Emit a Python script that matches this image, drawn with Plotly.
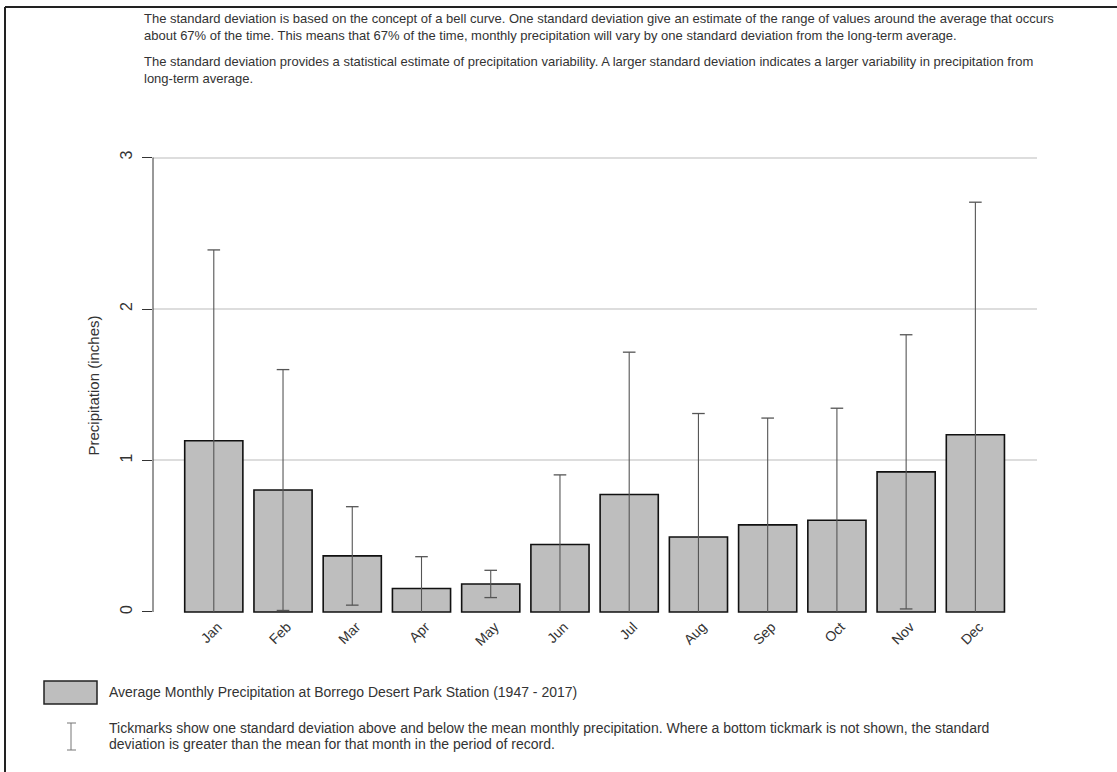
import plotly.graph_objects as go

# ---------------- data ----------------
months = ["Jan", "Feb", "Mar", "Apr", "May", "Jun",
          "Jul", "Aug", "Sep", "Oct", "Nov", "Dec"]
mean_precip = [1.13, 0.805, 0.37, 0.155, 0.185, 0.445,
               0.775, 0.495, 0.575, 0.605, 0.925, 1.17]
sd_precip = [1.26, 0.795, 0.325, 0.21, 0.09, 0.46,
             0.94, 0.815, 0.705, 0.74, 0.905, 1.535]
y_ticks = [0, 1, 2, 3]

header_1 = ("The standard deviation is based on the concept of a bell curve. One standard deviation give an "
            "estimate of the range of values around the average that occurs<br>about 67% of the time. This means "
            "that 67% of the time, monthly precipitation will vary by one standard deviation from the long-term average.")
header_2 = ("The standard deviation provides a statistical estimate of precipitation variability. A larger standard "
            "deviation indicates a larger variability in precipitation from<br>long-term average.")
legend_bar = "Average Monthly Precipitation at Borrego Desert Park Station (1947 - 2017)"
legend_err_1 = ("Tickmarks show one standard deviation above and below the mean monthly precipitation. "
                "Where a bottom tickmark is not shown, the standard")
legend_err_2 = "deviation is greater than the mean for that month in the period of record."
y_title = "Precipitation (inches)"

# ---------------- layout constants ----------------
W, H = 1117, 772
ML, MR, MT, MB = 153, 80, 156, 157
FONT = "Liberation Sans, Arial, sans-serif"
TXT = "#333333"
BAR_FILL = "#bebebe"
ERR = "#555555"

PW = W - ML - MR
PH = H - MT - MB


def px_x(px):
    return (px - ML) / PW


def px_y(py):
    return (H - MB - py) / PH


xs = list(range(len(months)))

fig = go.Figure()
fig.add_trace(go.Bar(
    x=xs, y=mean_precip, width=0.84,
    marker=dict(color=BAR_FILL, line=dict(color="#111111", width=1.6)),
    hoverinfo="skip", showlegend=False,
))

# error bar stems
ex, ey = [], []
for i, (m, s) in enumerate(zip(mean_precip, sd_precip)):
    ex += [i, i, None]
    ey += [max(m - s, 0), m + s, None]
fig.add_trace(go.Scatter(x=ex, y=ey, mode="lines",
                         line=dict(color=ERR, width=1.1),
                         hoverinfo="skip", showlegend=False))

# caps: upper always, lower only where mean - sd > 0
cx, cy = [], []
for i, (m, s) in enumerate(zip(mean_precip, sd_precip)):
    cx.append(i)
    cy.append(m + s)
    if m - s > 0:
        cx.append(i)
        cy.append(m - s)
fig.add_trace(go.Scatter(x=cx, y=cy, mode="markers",
                         marker=dict(symbol="line-ew", size=9,
                                     line=dict(color=ERR, width=1.3)),
                         hoverinfo="skip", showlegend=False))

shapes = []
# y-axis line from 0 to 3
shapes.append(dict(type="line", xref="paper", yref="y", x0=0, x1=0, y0=0, y1=3,
                   line=dict(color="#333333", width=1)))
# frame lines (top and left)
shapes.append(dict(type="line", xref="paper", yref="paper",
                   x0=px_x(5), x1=px_x(W), y0=px_y(7), y1=px_y(7),
                   line=dict(color="#222222", width=2)))
shapes.append(dict(type="line", xref="paper", yref="paper",
                   x0=px_x(5), x1=px_x(5), y0=px_y(7), y1=px_y(H),
                   line=dict(color="#222222", width=2)))
# legend swatch
shapes.append(dict(type="rect", xref="paper", yref="paper",
                   x0=px_x(44), x1=px_x(97), y0=px_y(704), y1=px_y(681),
                   fillcolor=BAR_FILL, line=dict(color="#222222", width=1.5)))
# legend error-bar glyph
shapes.append(dict(type="line", xref="paper", yref="paper",
                   x0=px_x(71), x1=px_x(71), y0=px_y(723), y1=px_y(750),
                   line=dict(color="#777777", width=1)))
for yy in (723, 750):
    shapes.append(dict(type="line", xref="paper", yref="paper",
                       x0=px_x(67), x1=px_x(76), y0=px_y(yy), y1=px_y(yy),
                       line=dict(color="#777777", width=1)))

annotations = [
    dict(text=header_1, xref="paper", yref="paper", x=px_x(142), y=px_y(9),
         xanchor="left", yanchor="top", align="left", showarrow=False,
         font=dict(family=FONT, size=13, color=TXT)),
    dict(text=header_2, xref="paper", yref="paper", x=px_x(142), y=px_y(52),
         xanchor="left", yanchor="top", align="left", showarrow=False,
         font=dict(family=FONT, size=13, color=TXT)),
    dict(text=legend_bar, xref="paper", yref="paper", x=px_x(107), y=px_y(692),
         xanchor="left", yanchor="middle", align="left", showarrow=False,
         font=dict(family=FONT, size=14, color=TXT)),
    dict(text=legend_err_1, xref="paper", yref="paper", x=px_x(107), y=px_y(728),
         xanchor="left", yanchor="middle", align="left", showarrow=False,
         font=dict(family=FONT, size=14, color=TXT)),
    dict(text=legend_err_2, xref="paper", yref="paper", x=px_x(107), y=px_y(744),
         xanchor="left", yanchor="middle", align="left", showarrow=False,
         font=dict(family=FONT, size=14, color=TXT)),
]

fig.update_layout(
    width=W, height=H,
    margin=dict(l=ML, r=MR, t=MT, b=MB),
    paper_bgcolor="white", plot_bgcolor="white",
    shapes=shapes, annotations=annotations,
    showlegend=False,
    bargap=0.16,
)
fig.update_xaxes(
    range=[-0.878, 11.89],
    tickmode="array", tickvals=xs, ticktext=months,
    tickangle=-45, ticks="", showgrid=False, zeroline=False, showline=False,
    tickfont=dict(family=FONT, size=14, color=TXT),
    ticklabelshift=4,
)
fig.update_yaxes(
    range=[-0.02, 3.01],
    tickmode="array", tickvals=y_ticks,
    ticks="outside", ticklen=10, tickcolor="#333333", tickwidth=1,
    tickangle=-90,
    tickfont=dict(family=FONT, size=16, color=TXT),
    ticklabelstandoff=4,
    showgrid=True, gridcolor="#dddddd", gridwidth=1.5,
    zeroline=True, zerolinecolor="white", zerolinewidth=1,
    showline=False,
    title=dict(text=y_title, font=dict(family=FONT, size=15, color=TXT), standoff=14),
)

fig.write_html("out.html", config={"displayModeBar": False},
               post_script="document.body.style.margin='0';")
